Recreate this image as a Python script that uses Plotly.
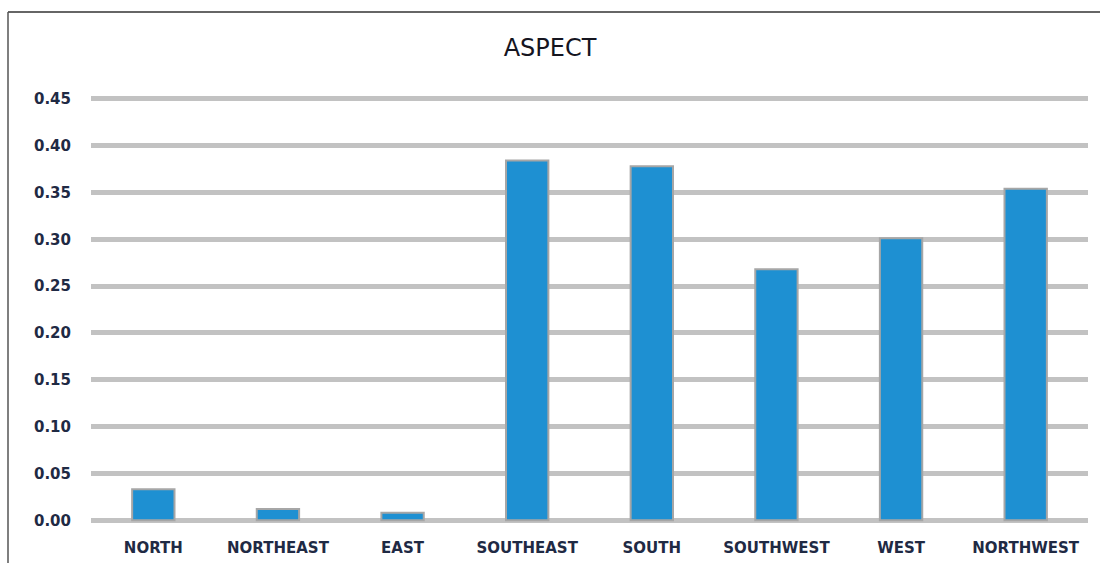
import plotly.graph_objects as go

categories = ["NORTH", "NORTHEAST", "EAST", "SOUTHEAST", "SOUTH", "SOUTHWEST", "WEST", "NORTHWEST"]
values = [0.033, 0.012, 0.008, 0.384, 0.378, 0.268, 0.301, 0.354]
y_ticks = [0.00, 0.05, 0.10, 0.15, 0.20, 0.25, 0.30, 0.35, 0.40, 0.45]

W, H = 1100, 573
ML, MR, MT, MB = 91, 12, 95, 49

def px_to_paper_x(px):
    return (px - ML) / (W - ML - MR)

def px_to_paper_y(py):
    return (H - MB - py) / (H - MT - MB)

fig = go.Figure()
fig.add_trace(go.Bar(
    x=categories, y=values,
    width=0.34,
    marker=dict(color="#1E90D2", line=dict(color="#A6A6A6", width=2)),
))

text_color = "#1F2A44"
fig.update_layout(
    width=W, height=H,
    margin=dict(l=ML, r=MR, t=MT, b=MB),
    paper_bgcolor="white", plot_bgcolor="white",
    showlegend=False,
    title=dict(text="ASPECT", x=0.5, xanchor="center", y=1 - 48 / H, yanchor="middle",
               font=dict(family="DejaVu Sans", size=24, color="#15151f")),
    xaxis=dict(
        showgrid=False, zeroline=False, showline=False,
        ticks="outside", ticklen=10, tickcolor="white",
        tickfont=dict(family="DejaVu Sans", size=15, color=text_color, weight="bold"),
    ),
    yaxis=dict(
        range=[-0.004, 0.454], tickvals=y_ticks, tickformat=".2f",
        showgrid=True, gridcolor="#C2C2C2", gridwidth=5,
        zeroline=False, showline=False,
        ticks="outside", ticklen=16, tickcolor="white",
        tickfont=dict(family="DejaVu Sans", size=15, color=text_color, weight="bold"),
    ),
    shapes=[
        dict(type="line", xref="paper", yref="paper",
             x0=px_to_paper_x(8), x1=px_to_paper_x(W), y0=px_to_paper_y(12), y1=px_to_paper_y(12),
             line=dict(color="#333333", width=1.5)),
        dict(type="line", xref="paper", yref="paper",
             x0=px_to_paper_x(8), x1=px_to_paper_x(8), y0=px_to_paper_y(12), y1=px_to_paper_y(H),
             line=dict(color="#555555", width=1.5)),
    ],
)

fig.write_html(
    "out.html",
    config={"displayModeBar": False},
    post_script="document.body.style.margin='0';document.body.style.overflow='hidden';",
)
